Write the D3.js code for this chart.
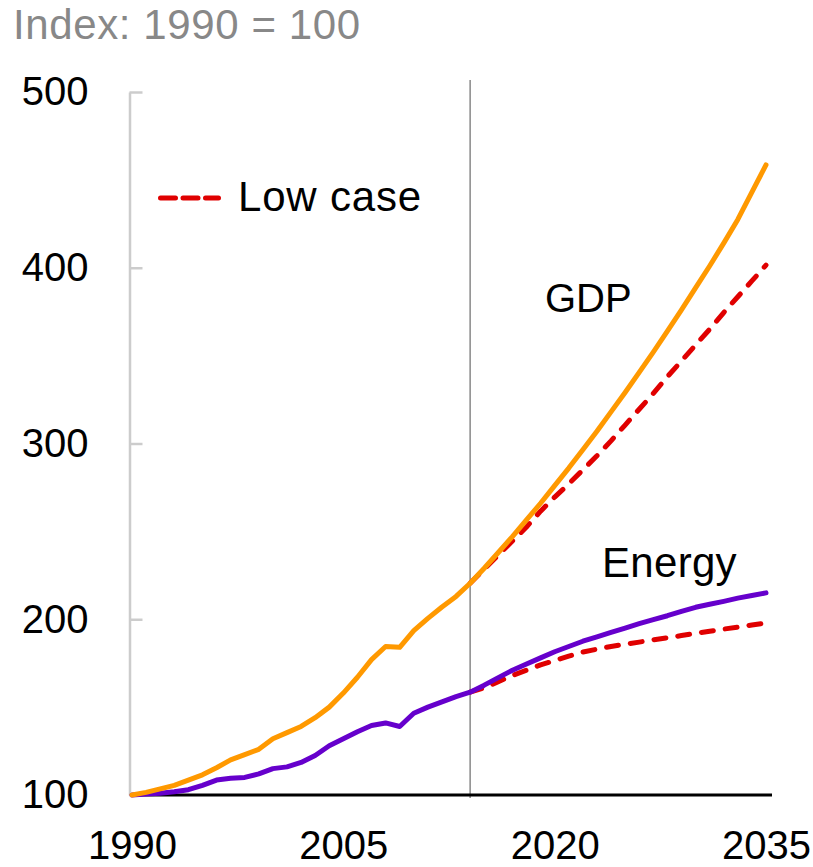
<!DOCTYPE html>
<html>
<head>
<meta charset="utf-8">
<script src="https://cdn.jsdelivr.net/npm/d3@7"></script>
<style>
  html, body { margin: 0; padding: 0; background: #fff; }
  svg { display: block; font-family: "Liberation Sans", Arial, sans-serif; }
</style>
</head>
<body>
<svg id="chart" width="813" height="867"></svg>
<script>
// ---- Data (index, 1990 = 100) ----
const histYears = [1990,1991,1992,1993,1994,1995,1996,1997,1998,1999,2000,2001,2002,2003,2004,2005,2006,2007,2008,2009,2010,2011,2012,2013,2014];
const gdpHist = [100,101.5,103.5,105.5,108.5,111.5,115.5,120,123,126,132,135.5,139,144,150,158,167,177,184.5,184,193.5,200.5,207,213,220.5];
const energyHist = [100,100.5,101,101.8,103,105.5,108.5,109.5,110,112,115,116,118.5,122.5,128,132,136,139.5,141,139,146.5,150,153,156,158.5];

const projYears = [2014,2015,2016,2017,2018,2019,2020,2021,2022,2023,2024,2025,2026,2027,2028,2029,2030,2031,2032,2033,2034,2035];
const gdpBase = [220.5,229,238,247,256.5,266,276,286,296.5,307,318,329,340.5,352,364,376,388.5,401,414,427.5,443,458.5];
const gdpLow = [220.5,228.5,236.5,244.5,252.5,261.5,269.5,277,285,293,301.5,310.5,319.5,328.5,338,347,356,365,374.5,383.5,392.5,401.5];
const energyBase = [158.5,162.5,166.8,171,174.5,178,181.5,184.5,187.5,190,192.5,195,197.5,199.8,202,204.5,206.8,208.5,210.2,212,213.5,215];
const energyLow = [158.5,161,164.5,168,171,174,176.5,179,181.3,183,184.5,185.8,187,188.3,189.5,190.7,192,193.2,194.4,195.5,196.7,197.8];

const yTicks = [100,200,300,400,500];
const xTicks = [1990,2005,2020,2035];
const lastHistYear = 2014;
const title = "Index: 1990 = 100";
const legendLabel = "Low case";
const gdpLabel = "GDP";
const energyLabel = "Energy";

// ---- Styles ----
const C_GDP = "#ff9900", C_EN = "#6600cc", C_LOW = "#e00000";
const FS = 40;
const FONT = "Liberation Sans, Arial, sans-serif";

const svg = d3.select("#chart");
const x = d3.scaleLinear().domain([1990, 2035]).range([132, 766]);
const y = d3.scaleLinear().domain([100, 500]).range([795, 92]);

// Title
svg.append("text").attr("x", 13).attr("y", 39)
  .attr("font-size", 42).attr("letter-spacing", 0.6).attr("fill", "#888").text(title);

// Y axis
const yAxis = d3.axisLeft(y).tickValues(yTicks).tickSizeInner(-13).tickSizeOuter(0).tickPadding(41);
const gy = svg.append("g").attr("transform", "translate(129.5,0)").call(yAxis);
gy.select(".domain").attr("stroke", "#cccccc").attr("stroke-width", 2.5);
gy.selectAll(".tick line").attr("stroke", "#cccccc").attr("stroke-width", 2.5);
gy.selectAll(".tick text").attr("font-size", FS).attr("fill", "#000").attr("font-family", FONT);

// Divider between history and projections
svg.append("line")
  .attr("x1", x(lastHistYear)).attr("x2", x(lastHistYear))
  .attr("y1", 80).attr("y2", 798)
  .attr("stroke", "#888").attr("stroke-width", 1.5);

// X axis
const xAxis = d3.axisBottom(x).tickValues(xTicks).tickFormat(d3.format("d")).tickSize(0).tickPadding(36);
const gx = svg.append("g").attr("transform", `translate(0,${y(100)})`).call(xAxis);
gx.select(".domain").remove();
gx.selectAll(".tick text").attr("font-size", FS).attr("fill", "#000").attr("font-family", FONT);
svg.append("line")
  .attr("x1", x.range()[0] - 2).attr("x2", x.range()[1] + 6)
  .attr("y1", y(100)).attr("y2", y(100))
  .attr("stroke", "#000").attr("stroke-width", 3);

// Lines
const line = d3.line().x(d => x(d[0])).y(d => y(d[1]));
const zip = (xs, ys) => xs.map((v, i) => [v, ys[i]]);

function drawLine(data, color, dashed) {
  svg.append("path").datum(data)
    .attr("d", line).attr("fill", "none")
    .attr("stroke", color).attr("stroke-width", 5)
    .attr("stroke-linecap", "round").attr("stroke-linejoin", "round")
    .attr("stroke-dasharray", dashed ? "12,12" : null);
}

drawLine(zip(projYears, energyLow), C_LOW, true);
drawLine(zip(projYears, gdpLow), C_LOW, true);
drawLine(zip(histYears, energyHist).concat(zip(projYears, energyBase).slice(1)), C_EN, false);
drawLine(zip(histYears, gdpHist).concat(zip(projYears, gdpBase).slice(1)), C_GDP, false);

// Legend
svg.append("line").attr("x1", 160.5).attr("x2", 218.5).attr("y1", 198).attr("y2", 198)
  .attr("stroke", C_LOW).attr("stroke-width", 5).attr("stroke-linecap", "round")
  .attr("stroke-dasharray", "15,7.5");
svg.append("text").attr("x", 238).attr("y", 211).attr("font-size", 42).attr("letter-spacing", 0.8)
  .attr("fill", "#000").text(legendLabel);

// Series labels
svg.append("text").attr("x", 545).attr("y", 312).attr("font-size", FS).attr("fill", "#000").text(gdpLabel);
svg.append("text").attr("x", 602).attr("y", 577).attr("font-size", 42).attr("letter-spacing", 0.3)
  .attr("fill", "#000").text(energyLabel);
</script>
</body>
</html>
